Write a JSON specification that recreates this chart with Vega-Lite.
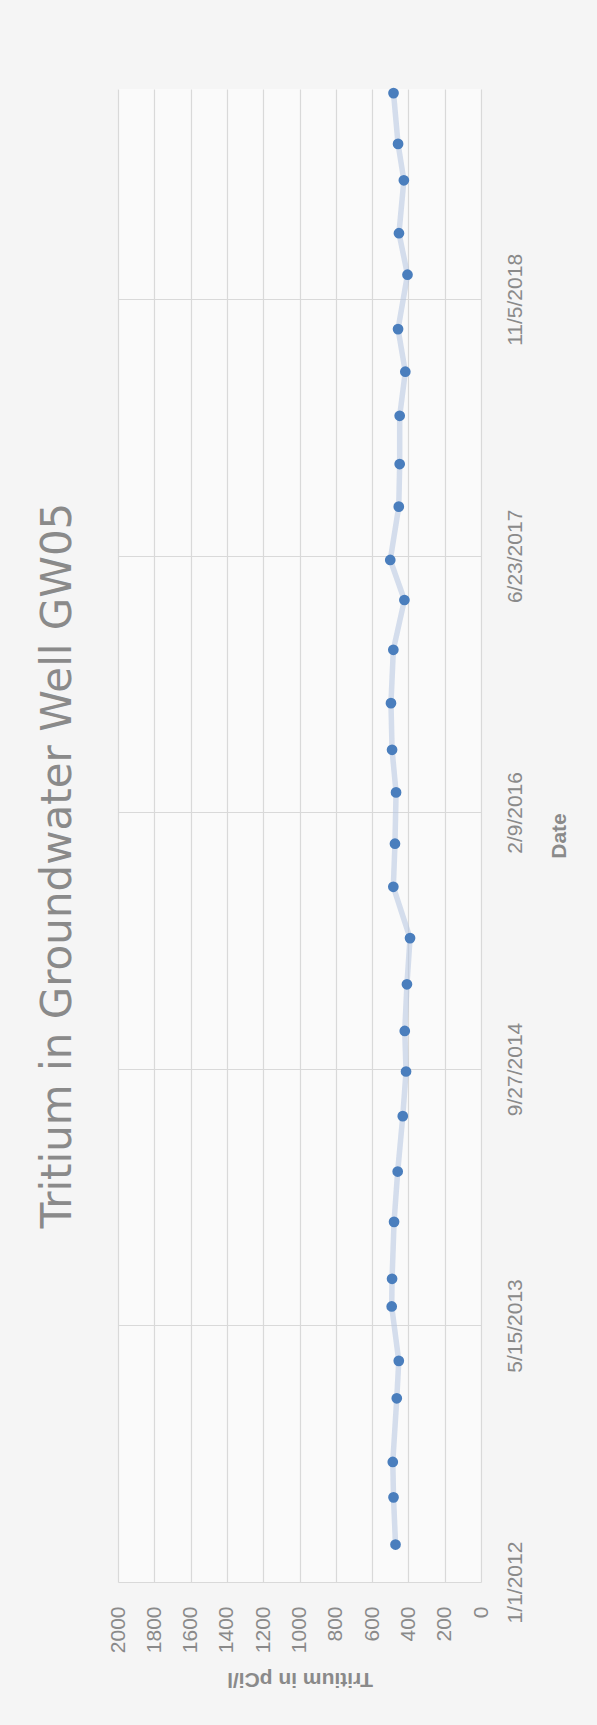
{
  "$schema": "https://vega.github.io/schema/vega-lite/v6.json",
  "autosize": {"type": "none"},
  "padding": {"left": 118, "top": 89, "right": 116, "bottom": 143},
  "width": 363,
  "height": 1493,
  "background": "#f5f5f5",
  "title": {
    "text": "Tritium in Groundwater Well GW05",
    "orient": "left",
    "anchor": "middle",
    "offset": 27,
    "dx": -30,
    "font": "DejaVu Sans",
    "fontSize": 42,
    "fontWeight": "normal",
    "color": "#8a8a8a"
  },
  "config": {
    "view": {"stroke": null, "fill": "#fafafa"},
    "axis": {
      "labelFont": "Liberation Sans",
      "labelFontSize": 21,
      "labelColor": "#8a8a8a",
      "titleFont": "Liberation Sans",
      "titleFontSize": 21,
      "titleFontWeight": "bold",
      "titleColor": "#8a8a8a",
      "gridColor": "#d9d9d9",
      "gridWidth": 1.2,
      "gridOpacity": 1,
      "domain": false,
      "ticks": false
    }
  },
  "data": {
    "values": [
      {"date": "2012-03-14T00:00:00", "tritium": 471},
      {"date": "2012-06-14T00:00:00", "tritium": 482},
      {"date": "2012-08-22T00:00:00", "tritium": 486},
      {"date": "2012-12-24T00:00:00", "tritium": 464},
      {"date": "2013-03-07T00:00:00", "tritium": 453},
      {"date": "2013-06-21T00:00:00", "tritium": 492},
      {"date": "2013-08-14T00:00:00", "tritium": 490},
      {"date": "2013-12-03T00:00:00", "tritium": 479},
      {"date": "2014-03-11T00:00:00", "tritium": 459},
      {"date": "2014-06-27T00:00:00", "tritium": 431},
      {"date": "2014-09-22T00:00:00", "tritium": 413},
      {"date": "2014-12-10T00:00:00", "tritium": 420},
      {"date": "2015-03-11T00:00:00", "tritium": 408},
      {"date": "2015-06-09T00:00:00", "tritium": 391},
      {"date": "2015-09-17T00:00:00", "tritium": 483},
      {"date": "2015-12-10T00:00:00", "tritium": 474},
      {"date": "2016-03-19T00:00:00", "tritium": 468},
      {"date": "2016-06-10T00:00:00", "tritium": 490},
      {"date": "2016-09-09T00:00:00", "tritium": 496},
      {"date": "2016-12-22T00:00:00", "tritium": 483},
      {"date": "2017-03-29T00:00:00", "tritium": 422},
      {"date": "2017-06-15T00:00:00", "tritium": 500},
      {"date": "2017-09-27T00:00:00", "tritium": 453},
      {"date": "2017-12-19T00:00:00", "tritium": 448},
      {"date": "2018-03-23T00:00:00", "tritium": 448},
      {"date": "2018-06-17T00:00:00", "tritium": 417},
      {"date": "2018-09-08T00:00:00", "tritium": 457},
      {"date": "2018-12-23T00:00:00", "tritium": 405},
      {"date": "2019-03-14T00:00:00", "tritium": 452},
      {"date": "2019-06-25T00:00:00", "tritium": 425},
      {"date": "2019-09-04T00:00:00", "tritium": 457},
      {"date": "2019-12-12T00:00:00", "tritium": 482}
    ]
  },
  "encoding": {
    "x": {
      "field": "tritium",
      "type": "quantitative",
      "scale": {"domain": [0, 2000], "reverse": true, "nice": false, "zero": true},
      "axis": {
        "orient": "bottom",
        "values": [0, 200, 400, 600, 800, 1000, 1200, 1400, 1600, 1800, 2000],
        "format": "d",
        "labelAngle": 270,
        "labelAlign": "right",
        "labelBaseline": "middle",
        "labelPadding": 24,
        "title": "Tritium in pCi/l",
        "titleAngle": 180,
        "titleBaseline": "bottom",
        "titlePadding": 16,
        "grid": true
      }
    },
    "y": {
      "field": "date",
      "type": "temporal",
      "scale": {
        "domain": [
          {"year": 2012, "month": 1, "date": 1},
          {"year": 2019, "month": 12, "date": 20}
        ],
        "nice": false
      },
      "axis": {
        "orient": "right",
        "values": [
          {"year": 2012, "month": 1, "date": 1},
          {"year": 2013, "month": 5, "date": 15},
          {"year": 2014, "month": 9, "date": 27},
          {"year": 2016, "month": 2, "date": 9},
          {"year": 2017, "month": 6, "date": 23},
          {"year": 2018, "month": 11, "date": 5}
        ],
        "labelExpr": "timeFormat(datum.value, '%-m/%-d/%Y')",
        "labelAngle": 270,
        "labelAlign": "center",
        "labelBaseline": "top",
        "labelPadding": 23,
        "title": "Date",
        "titleAngle": 270,
        "titleBaseline": "top",
        "titlePadding": 23,
        "grid": true
      }
    },
    "order": {"field": "date", "type": "temporal"}
  },
  "layer": [
    {
      "mark": {"type": "line", "stroke": "#b4c4e0", "strokeWidth": 5.5, "opacity": 0.55}
    },
    {
      "mark": {"type": "point", "filled": true, "shape": "circle", "size": 115, "color": "#4a7ebd", "opacity": 1}
    }
  ]
}
